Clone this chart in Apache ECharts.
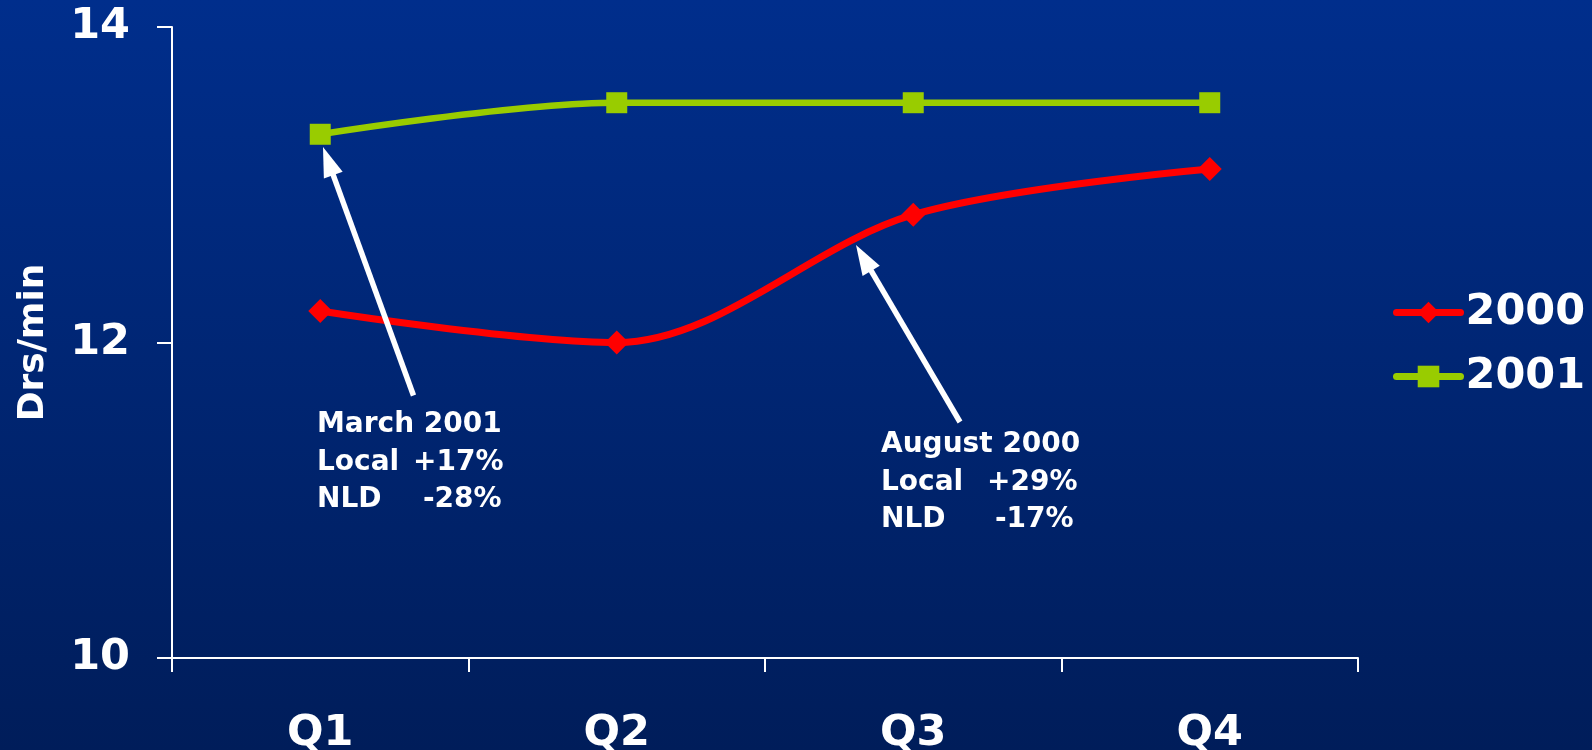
<!DOCTYPE html>
<html>
<head>
<meta charset="utf-8">
<script src="https://cdn.jsdelivr.net/npm/echarts@6/dist/echarts.min.js"></script>
<style>
html,body{margin:0;padding:0;background:#001e5c;}
#chart{width:1592px;height:750px;}
</style>
</head>
<body>
<div id="chart"></div>
<script>
var categories = ['Q1', 'Q2', 'Q3', 'Q4'];
var series2000 = [12.2, 12.0, 12.81, 13.1];
var series2001 = [13.32, 13.52, 13.52, 13.52];
var yTicks = { min: 10, max: 14, interval: 2 };
var yAxisName = 'Drs/min';
var note1 = { title: 'March 2001', localLabel: 'Local', localVal: '+17%', nldLabel: 'NLD', nldVal: '-28%' };
var note2 = { title: 'August 2000', localLabel: 'Local', localVal: '+29%', nldLabel: 'NLD', nldVal: '-17%' };

var FONT = 'DejaVu Sans';

function arrow(tail, tip) {
  var dx = tip[0] - tail[0], dy = tip[1] - tail[1];
  var len = Math.sqrt(dx * dx + dy * dy);
  var ux = dx / len, uy = dy / len;
  var px = -uy, py = ux;
  var headLen = 30, halfW = 10;
  var bx = tip[0] - ux * headLen, by = tip[1] - uy * headLen;
  return [
    { type: 'line', shape: { x1: tail[0], y1: tail[1], x2: bx + ux * 4, y2: by + uy * 4 },
      style: { stroke: '#ffffff', lineWidth: 5.5 }, z: 100 },
    { type: 'polygon', shape: { points: [[tip[0], tip[1]], [bx + px * halfW, by + py * halfW], [bx - px * halfW, by - py * halfW]] },
      style: { fill: '#ffffff' }, z: 100 }
  ];
}

function noteText(n, w1, w2) {
  var base = { fontSize: 28, fontWeight: 'bold', fontFamily: FONT, fill: '#ffffff', lineHeight: 37.5 };
  function st(extra) { var o = {}; for (var k in base) o[k] = base[k]; for (var j in extra) o[j] = extra[j]; return o; }
  return {
    text: '{t|' + n.title + '}\n{a|' + n.localLabel + '}{v|' + n.localVal + '}\n{b|' + n.nldLabel + '}{v|' + n.nldVal + '}',
    rich: { t: st({}), a: st({ width: w1 }), b: st({ width: w2 }), v: st({}) },
    fill: '#ffffff', fontSize: 28, fontWeight: 'bold', fontFamily: FONT, lineHeight: 37.5
  };
}

var chart = echarts.init(document.getElementById('chart'));
var option = {
  animation: false,
  backgroundColor: {
    type: 'linear', x: 0, y: 0, x2: 0, y2: 1,
    colorStops: [{ offset: 0, color: '#002e8c' }, { offset: 1, color: '#001d5a' }]
  },
  textStyle: { fontFamily: FONT },
  grid: { left: 172, right: 234, top: 27, bottom: 92, containLabel: false, outerBoundsMode: 'none' },
  xAxis: {
    type: 'category',
    data: categories,
    boundaryGap: true,
    axisLine: { show: true, lineStyle: { color: '#ffffff', width: 2 } },
    axisTick: { show: true, length: 14, lineStyle: { color: '#ffffff', width: 2 } },
    axisLabel: { color: '#ffffff', fontSize: 43, fontWeight: 'bold', fontFamily: FONT, margin: 54 },
    splitLine: { show: false }
  },
  yAxis: {
    type: 'value',
    min: yTicks.min, max: yTicks.max, interval: yTicks.interval,
    name: yAxisName,
    nameLocation: 'middle',
    nameGap: 120,
    nameRotate: 90,
    nameTextStyle: { color: '#ffffff', fontSize: 36, fontWeight: 'bold', fontFamily: FONT },
    axisLine: { show: true, lineStyle: { color: '#ffffff', width: 2 } },
    axisTick: { show: true, length: 15, lineStyle: { color: '#ffffff', width: 2 } },
    axisLabel: { color: '#ffffff', fontSize: 43, fontWeight: 'bold', fontFamily: FONT, margin: 42, padding: [11, 0, 0, 0] },
    splitLine: { show: false }
  },
  legend: {
    orient: 'vertical',
    left: 1393,
    top: 291,
    padding: 0,
    itemWidth: 64,
    itemHeight: 27,
    itemGap: 21,
    lineStyle: { width: 7, cap: 'round' },
    textStyle: { color: '#ffffff', fontSize: 43, fontWeight: 'bold', fontFamily: FONT, padding: [0, 0, 0, 0] },
    data: ['2000', '2001']
  },
  series: [
    {
      name: '2000', type: 'line', data: series2000, smooth: 0.33,
      symbol: 'diamond', symbolSize: 24,
      lineStyle: { color: '#ff0000', width: 7 },
      itemStyle: { color: '#ff0000' }, z: 3
    },
    {
      name: '2001', type: 'line', data: series2001, smooth: 0.33,
      symbol: 'rect', symbolSize: 21,
      lineStyle: { color: '#99cc00', width: 6.5 },
      itemStyle: { color: '#99cc00' }, z: 3
    }
  ],
  graphic: [].concat(
    arrow([413.5, 395.5], [323, 147]),
    arrow([960, 422], [856, 245]),
    [
      { type: 'text', left: 317, top: 406, z: 100, style: noteText(note1, 96, 106) },
      { type: 'text', left: 881, top: 426, z: 100, style: noteText(note2, 106, 114) }
    ]
  )
};
chart.setOption(option);
</script>
</body>
</html>
